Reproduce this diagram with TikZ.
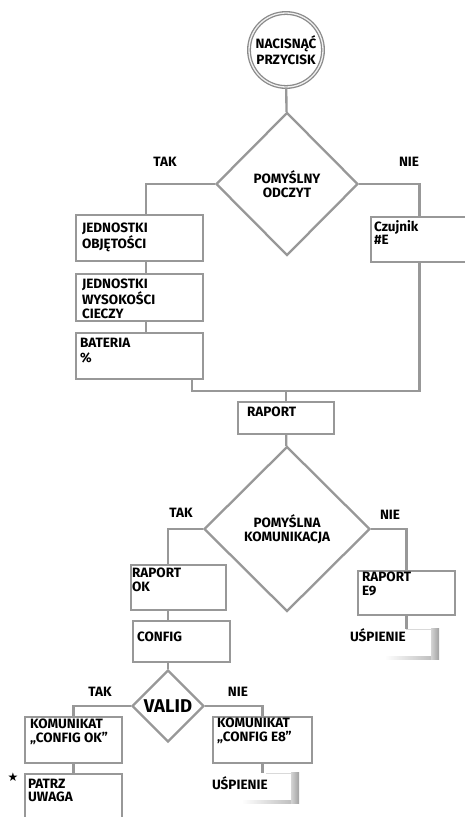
\documentclass[tikz,border=0pt]{standalone}
\usepackage{fontspec}
\setmainfont{Fira Sans}[BoldFont={Fira Sans Bold}]
\newfontfamily\symfont{DejaVu Sans}
\usetikzlibrary{shapes.geometric, positioning, calc}
\definecolor{linegray}{HTML}{989898}
\definecolor{ringgray}{HTML}{8A8A8A}
\tikzstyle{stepbox} = [rectangle, draw=linegray, line width=2.3pt, fill=white, inner sep=0pt]
\tikzstyle{boxtext} = [inner sep=0pt, align=left, font=\fontsize{13.5}{13.5}\selectfont\bfseries]
\tikzstyle{decision} = [diamond, draw=linegray, line width=2.3pt, fill=white, inner sep=0pt, align=center, font=\fontsize{13.5}{14}\selectfont\bfseries]
\tikzstyle{startnode} = [circle, minimum size=74pt, draw=ringgray, line width=1.3pt, double=gray!12, double distance=1.3pt, fill=white, align=center, inner sep=0pt, font=\fontsize{13.5}{16}\selectfont\bfseries]
\tikzstyle{branch} = [inner sep=0pt, font=\fontsize{13.5}{13.5}\selectfont\bfseries]
\tikzstyle{line} = [draw=linegray, line width=2.3pt]

\begin{document}
\begin{tikzpicture}[x=1pt, y=-1pt]
    \useasboundingbox[fill=white] (0,0) rectangle (465,817);

    % Odczyt
    \node[startnode] (start) at (286,50) {NACISNĄĆ\\PRZYCISK};
    \node[decision, minimum width=142pt, minimum height=143pt] (odczyt) at (287,184) {POMYŚLNY\\ODCZYT};
    \node[stepbox, minimum width=127pt, minimum height=46pt] (obj) at (139.5,238) {};
    \node[stepbox, minimum width=127pt, minimum height=47pt] (wys) at (139.5,297.5) {};
    \node[stepbox, minimum width=127pt, minimum height=46pt] (bat) at (139.5,356) {};
    \node[stepbox, minimum width=97pt, minimum height=45pt] (czuj) at (419.5,239.5) {};
    \node[stepbox, minimum width=96pt, minimum height=32pt] (raport) at (286,418) {};

    % Komunikacja
    \node[decision, minimum width=166pt, minimum height=165pt] (komun) at (287,529) {POMYŚLNA\\KOMUNIKACJA};
    \node[stepbox, minimum width=95pt, minimum height=45pt] (rok) at (178.5,587.5) {};
    \node[stepbox, minimum width=97pt, minimum height=44pt] (e9) at (406.5,593) {};
    \node[stepbox, minimum width=97pt, minimum height=41pt] (config) at (181.5,641.5) {};
    \node[minimum width=89pt, minimum height=30pt, inner sep=0pt] (sleepa) at (394.5,644) {};

    % Valid
    \node[decision, minimum width=72pt, minimum height=72pt, font=\fontsize{18.5}{20}\selectfont\bfseries] (valid) at (168,706) {VALID};
    \node[stepbox, minimum width=97pt, minimum height=46pt] (cok) at (73.5,740) {};
    \node[stepbox, minimum width=99pt, minimum height=46pt] (ce8) at (262.5,740) {};
    \node[stepbox, minimum width=97pt, minimum height=56pt] (patrz) at (73.5,802) {};
    \node[minimum width=87pt, minimum height=30pt, inner sep=0pt] (sleepb) at (255.5,788) {};

    % Box texts
    \node[boxtext, below right=9pt and 7pt of obj.north west] (objt) {JEDNOSTKI\\OBJĘTOŚCI};
    \node[boxtext, below right=6pt and 7pt of wys.north west] (wyst) {JEDNOSTKI\\WYSOKOŚCI\\CIECZY};
    \node[boxtext, below right=6pt and 5pt of bat.north west] (batt) {BATERIA\\[1.5pt]\%};
    \node[boxtext, below right=4pt and 4pt of czuj.north west] (czujt) {Czujnik\\\#E};
    \node[boxtext, below right=6pt and 10pt of raport.north west] (raportt) {RAPORT};
    \node[boxtext, below right=4pt and 2pt of rok.north west] (rokt) {RAPORT\\OK};
    \node[boxtext, below right=2pt and 5pt of e9.north west] (e9t) {RAPORT\\E9};
    \node[boxtext, below right=12pt and 5pt of config.north west] (configt) {CONFIG};
    \node[boxtext, below right=3pt and 6pt of cok.north west] (cokt) {KOMUNIKAT\\„CONFIG OK”};
    \node[boxtext, below right=2pt and 5pt of ce8.north west] (ce8t) {KOMUNIKAT\\„CONFIG E8”};
    \node[boxtext, below right=6pt and 4pt of patrz.north west] (patrzt) {PATRZ\\UWAGA};
    \node[boxtext, below right=0pt and 0pt of sleepa.north west] (sleepat) {UŚPIENIE};
    \node[boxtext, below right=4pt and 0pt of sleepb.north west] (sleepbt) {UŚPIENIE};
    \node[inner sep=0pt, font=\symfont\fontsize{12}{12}\selectfont] (star) at (13,777) {★};

    % Branch labels
    \node[branch] (tak1) at (165,162) {TAK};
    \node[branch] (nie1) at (409,162) {NIE};
    \node[branch] (tak2) at (181,513) {TAK};
    \node[branch] (nie2) at (390,515) {NIE};
    \node[branch] (tak3) at (100,692) {TAK};
    \node[branch] (nie3) at (238,692) {NIE};

    % Connectors
    \coordinate (ja) at (146,184);
    \coordinate (jb) at (192,391);
    \coordinate (jc) at (168,529);
    \draw[line] (start) -- (odczyt);
    \draw[line] (odczyt.west) -| (ja |- obj.north);
    \draw[line] (ja |- obj.south) -- (ja |- wys.north);
    \draw[line] (ja |- wys.south) -- (ja |- bat.north);
    \draw[line] (odczyt.east) -| (czuj.north);
    \draw[line] (jb |- bat.south) -- (jb) -| (czuj.south);
    \draw[line] (jb -| raport.north) -- (raport.north);
    \draw[line] (raport) -- (komun);
    \draw[line] (komun.west) -| (jc |- rok.north);
    \draw[line] (komun.east) -| (e9.north);
    \draw[line] (jc |- rok.south) -- (jc |- config.north);
    \draw[line] (jc |- config.south) -- (valid.north);
    \draw[line] (e9.south) -- (e9.south |- sleepa.north);
    \draw[line] (valid.west) -| (cok.north);
    \draw[line] (valid.east) -| (ce8.north);
    \draw[line] (cok) -- (patrz);
    \draw[line] (ce8.south) -- (ce8.south |- sleepb.north);

    % Sleep marks
    \shade[left color=gray!35, right color=gray!75] ($(sleepa.north east)+(-8pt,0pt)$) rectangle (sleepa.south east);
    \shade[left color=white, right color=gray!50] ($(sleepa.south west)+(35pt,0pt)$) rectangle ($(sleepa.south east)+(-8pt,2.5pt)$);
    \draw[gray!30, line width=0.8pt] ($(sleepa.north west)+(56pt,-0.4pt)$) -- ($(sleepa.north east)+(-8pt,-0.4pt)$);
    \shade[left color=gray!35, right color=gray!75] ($(sleepb.north east)+(-8pt,0pt)$) rectangle (sleepb.south east);
    \shade[left color=white, right color=gray!50] ($(sleepb.south west)+(30pt,0pt)$) rectangle ($(sleepb.south east)+(-8pt,2.5pt)$);
    \draw[gray!30, line width=0.8pt] ($(sleepb.north west)+(54pt,-0.4pt)$) -- ($(sleepb.north east)+(-8pt,-0.4pt)$);
\end{tikzpicture}
\end{document}
